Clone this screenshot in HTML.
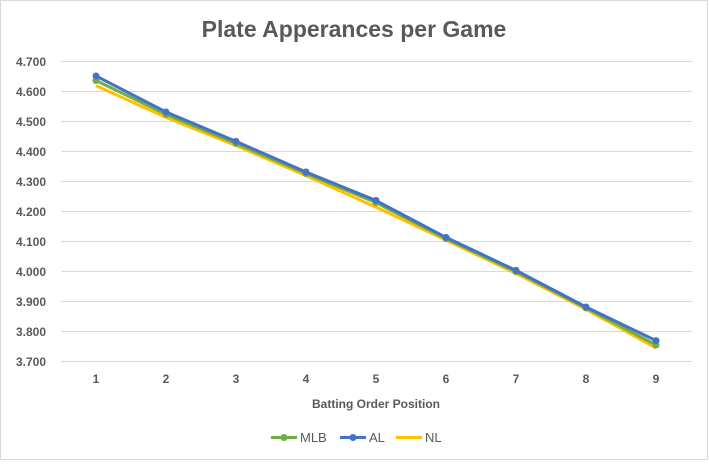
<!DOCTYPE html>
<html><head><style>
body{margin:0;background:#fff;}
text{font-family:"Liberation Sans",sans-serif;}
</style></head><body>
<svg width="709" height="461" xmlns="http://www.w3.org/2000/svg">
<rect x="0.5" y="0.5" width="707" height="459" fill="#fff" stroke="#d9d9d9"/>
<text x="354" y="37" text-anchor="middle" font-size="23" font-weight="bold" fill="#595959">Plate Apperances per Game</text>
<g stroke="#d9d9d9" stroke-width="1">
<line x1="61" x2="692" y1="61.5" y2="61.5"/><line x1="61" x2="692" y1="91.5" y2="91.5"/>
<line x1="61" x2="692" y1="121.5" y2="121.5"/><line x1="61" x2="692" y1="151.5" y2="151.5"/>
<line x1="61" x2="692" y1="181.5" y2="181.5"/><line x1="61" x2="692" y1="211.5" y2="211.5"/>
<line x1="61" x2="692" y1="241.5" y2="241.5"/><line x1="61" x2="692" y1="271.5" y2="271.5"/>
<line x1="61" x2="692" y1="301.5" y2="301.5"/><line x1="61" x2="692" y1="331.5" y2="331.5"/>
<line x1="61" x2="692" y1="361.5" y2="361.5"/>
</g>
<g font-size="12" font-weight="bold" fill="#595959" text-anchor="end">
<text x="46" y="66">4.700</text><text x="46" y="96">4.600</text><text x="46" y="126">4.500</text>
<text x="46" y="156">4.400</text><text x="46" y="186">4.300</text><text x="46" y="216">4.200</text>
<text x="46" y="246">4.100</text><text x="46" y="276">4.000</text><text x="46" y="306">3.900</text>
<text x="46" y="336">3.800</text><text x="46" y="366">3.700</text>
</g>
<g font-size="12" font-weight="bold" fill="#595959" text-anchor="middle">
<text x="96" y="383">1</text><text x="166" y="383">2</text><text x="236" y="383">3</text>
<text x="306" y="383">4</text><text x="376" y="383">5</text><text x="446" y="383">6</text>
<text x="516" y="383">7</text><text x="586" y="383">8</text><text x="656" y="383">9</text>
<text x="376" y="408">Batting Order Position</text>
</g>
<polyline fill="none" stroke="#ffc000" stroke-width="3" points="96,85.6 166,117.4 236,145.6 306,175.6 376,207.1 446,240.1 516,273.4 586,309.4 656,348"/>
<polyline fill="none" stroke="#70ad47" stroke-width="3" points="96,80.5 166,114.4 236,143.5 306,173.5 376,202.6 446,238.6 516,271.6 586,307.9 656,345"/>
<g fill="#70ad47"><circle cx="96" cy="80.5" r="3.5"/><circle cx="166" cy="114.4" r="3.5"/><circle cx="236" cy="143.5" r="3.5"/><circle cx="306" cy="173.5" r="3.5"/><circle cx="376" cy="202.6" r="3.5"/><circle cx="446" cy="238.6" r="3.5"/><circle cx="516" cy="271.6" r="3.5"/><circle cx="586" cy="307.9" r="3.5"/><circle cx="656" cy="345" r="3.5"/></g>
<polyline fill="none" stroke="#4472c4" stroke-width="3" points="96,76 166,112 236,141.4 306,172 376,200.5 446,237.4 516,270.4 586,307 656,340.6"/>
<g fill="#4472c4"><circle cx="96" cy="76" r="3.5"/><circle cx="166" cy="112" r="3.5"/><circle cx="236" cy="141.4" r="3.5"/><circle cx="306" cy="172" r="3.5"/><circle cx="376" cy="200.5" r="3.5"/><circle cx="446" cy="237.4" r="3.5"/><circle cx="516" cy="270.4" r="3.5"/><circle cx="586" cy="307" r="3.5"/><circle cx="656" cy="340.6" r="3.5"/></g>
<g font-size="13" fill="#595959">
<line x1="271" x2="297" y1="437.5" y2="437.5" stroke="#70ad47" stroke-width="3"/><circle cx="284" cy="437.5" r="3.5" fill="#70ad47"/>
<text x="300" y="442">MLB</text>
<line x1="340" x2="366" y1="437.5" y2="437.5" stroke="#4472c4" stroke-width="3"/><circle cx="353" cy="437.5" r="3.5" fill="#4472c4"/>
<text x="369" y="442">AL</text>
<line x1="396" x2="422" y1="437.5" y2="437.5" stroke="#ffc000" stroke-width="3"/>
<text x="425" y="442">NL</text>
</g>
</svg>
</body></html>
